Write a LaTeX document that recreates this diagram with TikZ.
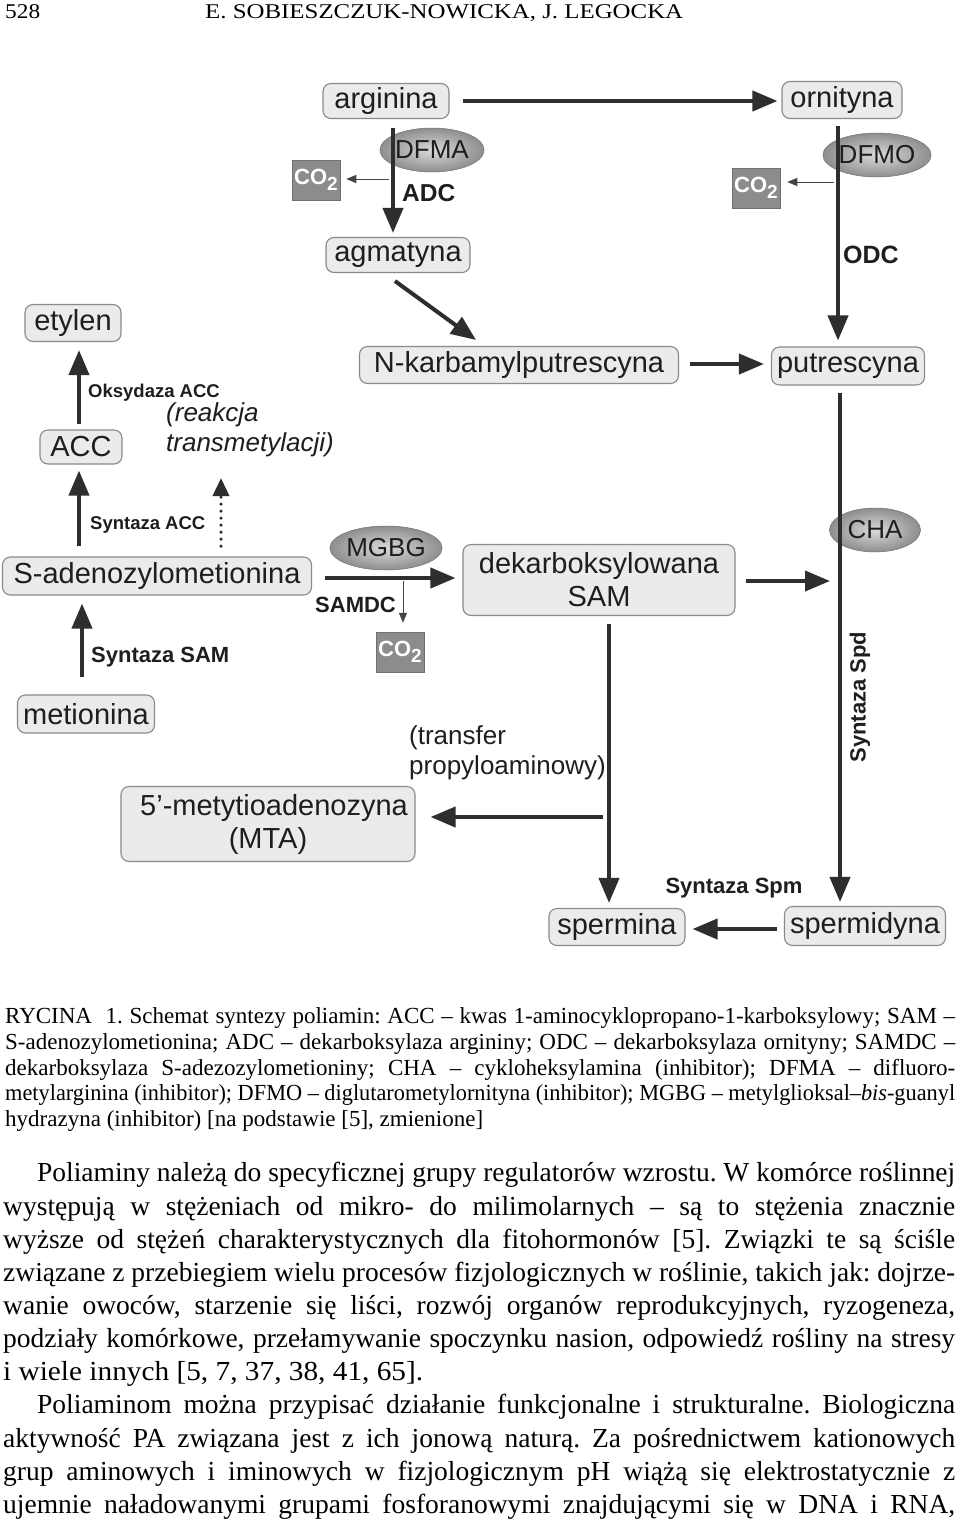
\documentclass[tikz,border=0pt]{standalone}
\usepackage{fontspec}
\usepackage{graphicx}
\setmainfont{Liberation Serif}
\newfontfamily\arialf{Liberation Sans}
\usetikzlibrary{arrows.meta,shapes.geometric,calc}
\definecolor{boxfill}{HTML}{EBEBEB}
\definecolor{boxline}{HTML}{8A8A8A}
\definecolor{arrcol}{HTML}{2E2E2E}
\definecolor{txtcol}{HTML}{1E1E1E}
\definecolor{co2fill}{HTML}{8C8C8C}
\definecolor{ellin}{HTML}{DADADA}
\definecolor{ellout}{HTML}{8E8E8E}
\definecolor{thincol}{HTML}{444444}
\makeatletter
\newdimen\jlw \newdimen\jlt
\newcommand\jline[2]{\setbox0=\hbox{#2}\jlt=#1\relax
 \ifdim\wd0>\jlt
   \jlw=\dimexpr 1pt*\jlt/\wd0\relax
   \scalebox{\strip@pt\jlw}[1]{\box0}%
 \else
   \hbox to\jlt{\unhbox0}%
 \fi}
\newcommand\fitx[2]{\setbox0=\hbox{#2}\jlt=#1\relax
 \jlw=\dimexpr 1pt*\jlt/\wd0\relax
 \scalebox{\strip@pt\jlw}[1]{\box0}}
\makeatother
\frenchspacing
\newcommand\pBoxFont{\arialf\fontsize{29}{33}\selectfont}
\newcommand\pCOtwo{CO\raisebox{-6pt}{\fontsize{19}{19}\selectfont 2}}
\begin{document}
\begin{tikzpicture}[x=1pt,y=-1pt,
  pbox/.style={draw=boxline, fill=boxfill, rounded corners=8pt, line width=1.1pt, inner sep=0pt, font=\pBoxFont, text=txtcol, align=center},
  inhib/.style={ellipse, minimum width=91pt, minimum height=44pt, inner sep=0pt, shading=radial, inner color=ellin, outer color=ellout, draw=ellout!80!black, line width=0.5pt, font=\arialf\fontsize{26}{28}\selectfont, text=txtcol},
  co2box/.style={fill=co2fill, draw=co2fill!80!black, line width=0.5pt, minimum width=48pt, minimum height=40pt, inner sep=0pt, text=white, font=\arialf\bfseries\fontsize{22}{22}\selectfont},
  arr/.style={draw=arrcol, line width=4pt, -{Triangle[length=25pt,width=20pt]}},
  thinarr/.style={draw=thincol, line width=1pt, -{Triangle[length=10pt,width=8pt]}},
  dotarr/.style={draw=arrcol, line width=3.5pt, line cap=round, dash pattern=on 0pt off 7pt, -{Triangle[length=18pt,width=16pt]}},
  lblb/.style={inner sep=0pt, text=txtcol, anchor=west},
  lbln/.style={inner sep=0pt, text=txtcol, anchor=west, align=left},
  capline/.style={anchor=base west, inner sep=0pt, font=\fontsize{23}{25}\selectfont},
  bodyline/.style={anchor=base west, inner sep=0pt, font=\fontsize{27.5}{33}\selectfont},
  headline/.style={anchor=base west, inner sep=0pt, font=\fontsize{21}{24}\selectfont}
]
\fill[white] (0,0) rectangle (960,1521);
\useasboundingbox (0,0) rectangle (960,1521);

% header
\node[headline] (pgnum) at (5,18) {\fitx{35pt}{528}};
\node[headline] (runhead) at (205,18) {\fitx{478pt}{E. SOBIESZCZUK-NOWICKA, J. LEGOCKA}};

% inhibitor ellipses (under the lines)
\node[inhib] (dfma) at (432,150) {DFMA};
\node[inhib] (dfmo) at (877,155) {DFMO};
\node[inhib] (mgbg) at (386,548) {MGBG};
\node[inhib] (cha) at (875,530) {CHA};

% boxes
\node[pbox, minimum width=126pt, minimum height=35pt] (arg) at (386,101) {arginina};
\node[pbox, minimum width=120pt, minimum height=37pt] (orn) at (842,100) {ornityna};
\node[pbox, minimum width=144pt, minimum height=35pt] (agm) at (398,255) {agmatyna};
\node[pbox, minimum width=96pt, minimum height=37pt] (ety) at (73,323) {etylen};
\node[pbox, minimum width=319pt, minimum height=37pt] (nkp) at (519,365) {N-karbamylputrescyna};
\node[pbox, minimum width=153pt, minimum height=38pt] (put) at (848,366) {putrescyna};
\node[pbox, minimum width=82pt, minimum height=34pt] (acc) at (81,447) {ACC};
\node[pbox, minimum width=309pt, minimum height=38pt] (sam) at (157,576) {S-adenozylometionina};
\node[pbox, minimum width=272pt, minimum height=71pt] (dsam) at (599,580) {dekarboksylowana\\SAM};
\node[pbox, minimum width=137pt, minimum height=38pt] (met) at (86,714) {metionina};
\node[pbox, minimum width=294pt, minimum height=75pt] (mta) at (268,824) {\hspace*{12pt}5’-metytioadenozyna\\(MTA)};
\node[pbox, minimum width=136pt, minimum height=37pt] (spm) at (617,927) {spermina};
\node[pbox, minimum width=161pt, minimum height=39pt] (spd) at (865,926) {spermidyna};

% CO2 boxes
\node[co2box] (co2a) at (316,180) {\pCOtwo};
\node[co2box] (co2b) at (756,188) {\pCOtwo};
\node[co2box] (co2c) at (400,652) {\pCOtwo};

% labels
\node[lblb, font=\arialf\bfseries\fontsize{24.5}{26}\selectfont] (adc) at (402,193) {ADC};
\node[lblb, font=\arialf\bfseries\fontsize{25}{26}\selectfont] (odc) at (843,255) {ODC};
\node[lblb, font=\arialf\bfseries\fontsize{18.5}{20}\selectfont] (oks) at (88,393) {Oksydaza ACC};
\node[lbln, font=\arialf\itshape\fontsize{26}{30}\selectfont] (trans) at (166,430) {(reakcja\\transmetylacji)};
\node[lblb, font=\arialf\bfseries\fontsize{18.5}{20}\selectfont] (synacc) at (90,525) {Syntaza ACC};
\node[lblb, font=\arialf\bfseries\fontsize{22}{24}\selectfont] (samdc) at (315,605) {SAMDC};
\node[lblb, font=\arialf\bfseries\fontsize{22}{24}\selectfont] (synsam) at (91,657) {Syntaza SAM};
\node[lbln, font=\arialf\fontsize{26}{30}\selectfont] (transf) at (409,753) {(transfer\\propyloaminowy)};
\node[inner sep=0pt, text=txtcol, rotate=90, font=\arialf\bfseries\fontsize{22}{24}\selectfont] (synspd) at (860,697) {Syntaza Spd};
\node[inner sep=0pt, text=txtcol, font=\arialf\bfseries\fontsize{22}{24}\selectfont] (synspm) at (734,888) {Syntaza Spm};

% free ends
\coordinate (adcx) at (389,179);
\coordinate (odcx) at (834,182);
\coordinate (dotA) at (221,546);
\coordinate (dotB) at (221,478);
\coordinate (samdcx) at (403,581);
\coordinate (mtax) at (603,817);
\coordinate (spdline) at (830,581);

% connectors
\draw[arr] ($(arg.east)+(13,0)$) -- ($(orn.west)+(-4,1)$);
\draw[arr] ($(arg.south)+(7,9)$) -- ($(agm.north)+(-5,-4)$);
\draw[thinarr] (adcx) -- ($(co2a.east)+(6,-1)$);
\draw[arr] ($(orn.south)+(-4,7)$) -- ($(put.north)+(-10,-6)$);
\draw[thinarr] (odcx) -- ($(co2b.east)+(7,-6)$);
\draw[arr] ($(agm.south)+(-3,8)$) -- ($(nkp.north)+(-43,-6)$);
\draw[arr] ($(nkp.east)+(11,-1)$) -- ($(put.west)+(-7,-2)$);
\draw[arr] ($(acc.north)+(-2,-5)$) -- ($(ety.south)+(6,8)$);
\draw[arr] ($(sam.north)+(-78,-10)$) -- ($(acc.south)+(-2,6)$);
\draw[dotarr] (dotA) -- (dotB);
\draw[arr] ($(met.north)+(-4,-17)$) -- ($(sam.south)+(-75,8)$);
\draw[arr] ($(sam.east)+(13,2)$) -- ($(dsam.west)+(-7,-2)$);
\draw[thinarr] (samdcx) -- ($(co2c.north)+(3,-9)$);
\draw[arr] ($(dsam.south)+(10,8)$) -- ($(spm.north)+(-8,-5)$);
\draw[arr] (mtax) -- ($(mta.east)+(15,-7)$);
\draw[arr] ($(dsam.east)+(10,1)$) -- (spdline);
\draw[arr] ($(put.south)+(-8,7)$) -- ($(spd.north)+(-25,-4)$);
\draw[arr] ($(spd.west)+(-7,3)$) -- ($(spm.east)+(7,2)$);

% caption
\node[capline] (cap1) at (5,1023) {\jline{950pt}{RYCINA\ \ 1. Schemat syntezy poliamin: ACC – kwas 1-aminocyklopropano-1-karboksylowy; SAM –}};
\node[capline] (cap2) at (5,1049) {\jline{950pt}{S-adenozylometionina; ADC – dekarboksylaza argininy; ODC – dekarboksylaza ornityny; SAMDC –}};
\node[capline] (cap3) at (5,1075) {\jline{950pt}{dekarboksylaza S-adezozylometioniny; CHA – cykloheksylamina (inhibitor); DFMA – difluoro-}};
\node[capline] (cap4) at (5,1100) {\jline{950pt}{metylarginina (inhibitor); DFMO – diglutarometylornityna (inhibitor); MGBG – metylglioksal–\textit{bis}-guanyl}};
\node[capline] (cap5) at (5,1126) {\fitx{478pt}{hydrazyna (inhibitor) [na podstawie [5], zmienione]}};

% body text
\node[bodyline] (b1) at (37,1181) {\jline{918pt}{Poliaminy należą do specyficznej grupy regulatorów wzrostu. W komórce roślinnej}};
\node[bodyline] (b2) at (3,1215) {\jline{952pt}{występują w stężeniach od mikro- do milimolarnych – są to stężenia znacznie}};
\node[bodyline] (b3) at (3,1248) {\jline{952pt}{wyższe od stężeń charakterystycznych dla fitohormonów [5]. Związki te są ściśle}};
\node[bodyline] (b4) at (3,1281) {\jline{952pt}{związane z przebiegiem wielu procesów fizjologicznych w roślinie, takich jak: dojrze-}};
\node[bodyline] (b5) at (3,1314) {\jline{952pt}{wanie owoców, starzenie się liści, rozwój organów reprodukcyjnych, ryzogeneza,}};
\node[bodyline] (b6) at (3,1347) {\jline{952pt}{podziały komórkowe, przełamywanie spoczynku nasion, odpowiedź rośliny na stresy}};
\node[bodyline] (b7) at (3,1380) {\fitx{420pt}{i wiele innych [5, 7, 37, 38, 41, 65].}};
\node[bodyline] (b8) at (37,1413) {\jline{918pt}{Poliaminom można przypisać działanie funkcjonalne i strukturalne. Biologiczna}};
\node[bodyline] (b9) at (3,1447) {\jline{952pt}{aktywność PA związana jest z ich jonową naturą. Za pośrednictwem kationowych}};
\node[bodyline] (b10) at (3,1480) {\jline{952pt}{grup aminowych i iminowych w fizjologicznym pH wiążą się elektrostatycznie z}};
\node[bodyline] (b11) at (3,1513) {\jline{952pt}{ujemnie naładowanymi grupami fosforanowymi znajdującymi się w DNA i RNA,}};
\end{tikzpicture}
\end{document}
